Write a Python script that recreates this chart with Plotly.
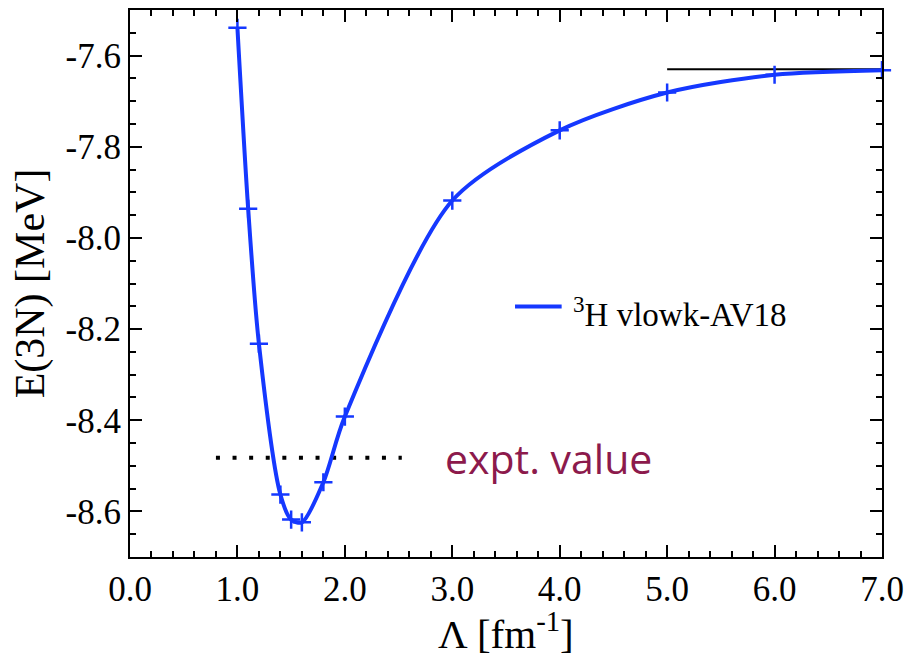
import plotly.graph_objects as go

# Triton binding energy vs. V_low-k cutoff (AV18 based)
cutoff = [1.0, 1.1, 1.2, 1.4, 1.5, 1.6, 1.8, 2.0, 3.0, 4.0, 5.0, 6.0, 7.0]
energy = [-7.539, -7.936, -8.232, -8.563, -8.618, -8.624, -8.536, -8.392,
          -7.918, -7.764, -7.681, -7.642, -7.632]

# Reference lines: experimental value and bare AV18 result
expt_x = [0.8, 2.53]
expt_e = [-8.482, -8.482]
av18_x = [5.0, 7.0]
av18_e = [-7.630, -7.630]

x_ticks = [0, 1, 2, 3, 4, 5, 6, 7]
y_ticks = [-7.6, -7.8, -8.0, -8.2, -8.4, -8.6]
y_labels = ["-7.6", "-7.8", "-8.0", "-8.2", "-8.4", "-8.6"]

series_name = "<sup>3</sup>H vlowk-AV18"
x_title = "Λ [fm<sup>-1</sup>]"

blue = "#1538ff"
serif = "Liberation Serif, Times New Roman, serif"

fig = go.Figure()

fig.add_trace(go.Scatter(
    x=expt_x, y=expt_e, mode="lines", showlegend=False,
    line=dict(color="black", width=4, dash="4px,12.6px"),
))
fig.add_trace(go.Scatter(
    x=av18_x, y=av18_e, mode="lines", showlegend=False,
    line=dict(color="black", width=2),
))
fig.add_trace(go.Scatter(
    x=cutoff, y=energy, mode="lines", name=series_name, showlegend=False,
    line=dict(color=blue, width=4, shape="spline", smoothing=0.8),
))
fig.add_trace(go.Scatter(
    x=cutoff, y=energy, mode="markers", showlegend=False,
    marker=dict(symbol="cross-thin", size=13, line=dict(color=blue, width=2.5)),
    cliponaxis=False,
))

# Key for the curve: line sample plus its label
fig.add_shape(
    type="line", xref="x domain", yref="y domain",
    x0=0.512, x1=0.574, y0=0.458, y1=0.458,
    line=dict(color=blue, width=4),
)
fig.add_annotation(
    x=0.586, y=0.448, xref="x domain", yref="y domain", text=series_name,
    showarrow=False, xanchor="left", yanchor="middle",
    font=dict(family=serif, size=33, color="black"),
)

fig.add_annotation(
    x=2.91, y=-8.482, xref="x", yref="y", text="expt. value", showarrow=False,
    xanchor="left", yanchor="middle",
    font=dict(family="Comic Sans MS, Open Sans, sans-serif", size=41, color="#8c1a4c"),
)

# x-axis title, placed just under the tick labels
fig.add_annotation(
    x=0.5, y=-0.085, xref="x domain", yref="y domain", text=x_title,
    showarrow=False, xanchor="center", yanchor="top",
    font=dict(family=serif, size=41, color="black"),
)

axis_common = dict(
    showline=True, linecolor="black", linewidth=2, mirror="ticks",
    ticks="inside", ticklen=12, tickwidth=1.5, tickcolor="black",
    showgrid=False, zeroline=False, automargin=False,
    tickfont=dict(family=serif, size=35, color="black"),
)

fig.update_xaxes(
    range=[0, 7], tickvals=x_ticks, tickformat=".1f",
    minor=dict(dtick=0.2, tick0=0, ticks="inside", ticklen=6, tickwidth=1.5, tickcolor="black"),
    **axis_common,
)
fig.update_yaxes(
    range=[-8.7, -7.5], tickvals=y_ticks, ticktext=y_labels,
    minor=dict(dtick=0.05, tick0=-7.6, ticks="inside", ticklen=6, tickwidth=1.5, tickcolor="black"),
    title=dict(text="E(3N) [MeV]", font=dict(family=serif, size=42, color="black"), standoff=8),
    **axis_common,
)

fig.update_layout(
    width=908, height=653,
    margin=dict(l=130, r=26, t=10, b=96),
    plot_bgcolor="white", paper_bgcolor="white",
    showlegend=False,
)

fig.write_html("out.html")
